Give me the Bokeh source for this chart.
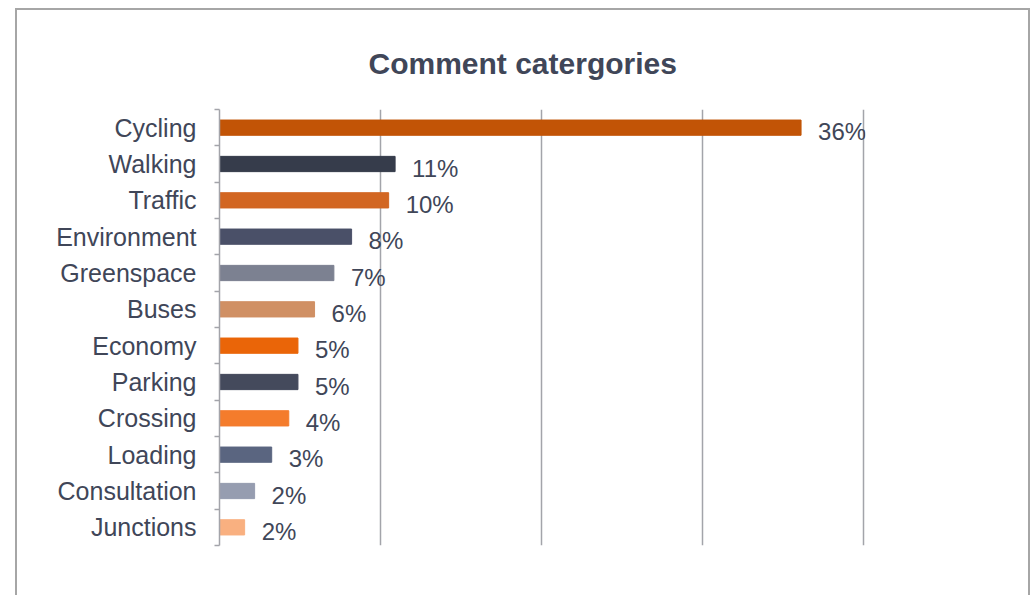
from bokeh.plotting import figure
from bokeh.models import Range1d, FixedTicker, ColumnDataSource, LabelSet
from bokeh.core.properties import value
from bokeh.embed import file_html
from bokeh.resources import INLINE

title_text = "Comment catergories"
categories = ["Cycling", "Walking", "Traffic", "Environment", "Greenspace", "Buses",
              "Economy", "Parking", "Crossing", "Loading", "Consultation", "Junctions"]
values = [36.1, 10.9, 10.5, 8.2, 7.1, 5.9, 4.87, 4.87, 4.3, 3.24, 2.18, 1.56]
colors = ["#C25406", "#363C4B", "#D26622", "#4A5068", "#7C8191", "#D09064",
          "#EA6508", "#444A5C", "#F47C2C", "#5A6580", "#969DB0", "#F9B080"]
x_ticks = [0, 10, 20, 30, 40]

n = len(categories)
centers = [i + 0.5 for i in range(n)]
boundaries = list(range(n + 1))
labels = [f"{round(v)}%" for v in values]
src = ColumnDataSource(dict(y=centers, val=values, col=colors, lab=labels))

text_color = "#404658"
grid_color = "#A3A4AA"

p = figure(width=1015, height=587, y_range=Range1d(n, 0),
           x_range=Range1d(0, 40.1), output_backend="svg", toolbar_location=None,
           min_border_left=202, min_border_right=167, min_border_top=99, min_border_bottom=52,
           title=title_text)
p.styles = {"transform": "translate(15px, 8px)", "border-top": "2px solid #A6A6A6",
            "border-left": "2px solid #A6A6A6", "border-right": "2px solid #A6A6A6"}
p.outline_line_color = None

p.title.align = "left"
p.title.offset = 149
p.title.standoff = 60
p.title.text_font = "Liberation Sans"
p.title.text_font_size = "30px"
p.title.text_font_style = "bold"
p.title.text_color = text_color

p.hbar(y="y", right="val", left=0, height=0.42, color="col", source=src)

p.add_layout(LabelSet(x="val", y="y", text="lab", source=src, x_offset=17, y_offset=-4,
                      text_baseline="middle", text_font=value("Liberation Sans"),
                      text_font_size=value("24px"), text_color=text_color))

# x axis hidden, vertical gridlines
p.xaxis.visible = False
p.xgrid.ticker = FixedTicker(ticks=x_ticks)
p.xgrid.grid_line_color = grid_color
p.xgrid.grid_line_width = 1.5
p.ygrid.visible = False

# y axis: labels at category centers, small ticks at boundaries
ax = p.yaxis[0]
ax.ticker = FixedTicker(ticks=centers, minor_ticks=boundaries)
ax.major_label_overrides = {c: name for c, name in zip(centers, categories)}
ax.axis_line_color = grid_color
ax.axis_line_width = 1.5
ax.major_tick_line_color = None
ax.major_tick_in = 0
ax.major_tick_out = 0
ax.minor_tick_line_color = grid_color
ax.minor_tick_line_width = 1.5
ax.minor_tick_in = 0
ax.minor_tick_out = 5
ax.major_label_standoff = 18
ax.major_label_text_font = "Liberation Sans"
ax.major_label_text_font_size = "25px"
ax.major_label_text_color = text_color

open("out.html", "w").write(file_html(p, INLINE))
